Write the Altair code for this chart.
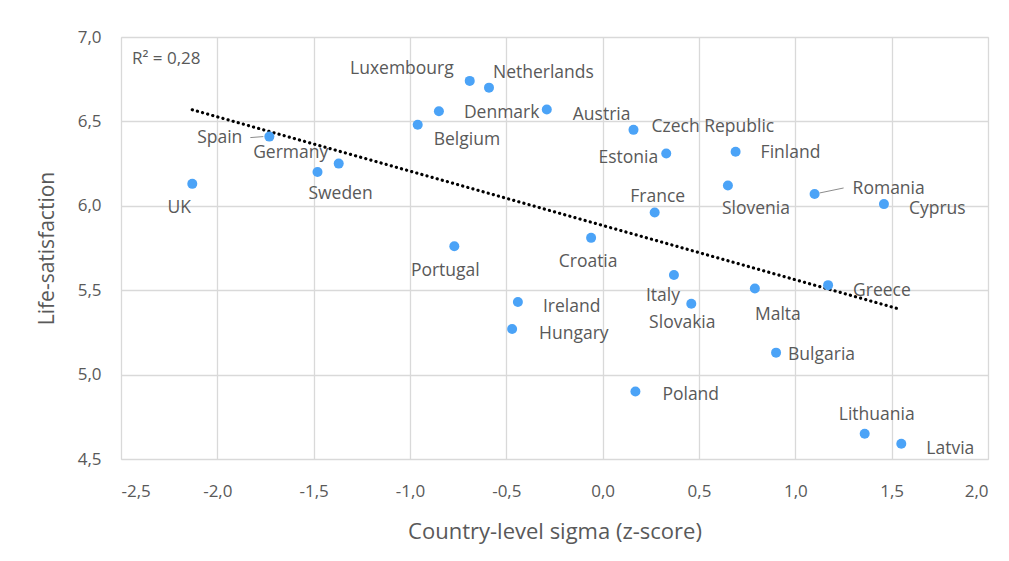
import altair as alt
import pandas as pd

countries = ["UK", "Spain", "Sweden", "Germany", "Belgium", "Denmark", "Luxembourg",
             "Netherlands", "Austria", "Czech Republic", "Estonia", "Finland", "Slovenia",
             "France", "Romania", "Cyprus", "Croatia", "Portugal", "Ireland", "Hungary",
             "Italy", "Slovakia", "Malta", "Greece", "Bulgaria", "Poland", "Lithuania", "Latvia"]
sigma = [-2.13, -1.73, -1.48, -1.37, -0.96, -0.85, -0.69, -0.59, -0.29, 0.16, 0.33, 0.69,
         0.65, 0.27, 1.10, 1.46, -0.06, -0.77, -0.44, -0.47, 0.37, 0.46, 0.79, 1.17, 0.90,
         0.17, 1.36, 1.55]
life = [6.13, 6.41, 6.20, 6.25, 6.48, 6.56, 6.74, 6.70, 6.57, 6.45, 6.31, 6.32, 6.12, 5.96,
        6.07, 6.01, 5.81, 5.76, 5.43, 5.27, 5.59, 5.42, 5.51, 5.53, 5.13, 4.90, 4.65, 4.59]

# label placement (pixel offsets from point, alignment)
label_pos = {
    "UK": (-13, 24, "center"), "Spain": (-27, 1, "right"), "Sweden": (23, 22, "center"),
    "Germany": (-48, -11, "center"), "Belgium": (16, 15, "left"), "Denmark": (25, 2, "left"),
    "Luxembourg": (-16, -12, "right"), "Netherlands": (4, -15, "left"),
    "Austria": (26, 5, "left"), "Czech Republic": (18, -3, "left"),
    "Estonia": (-8, 5, "right"), "Finland": (25, 1, "left"), "Slovenia": (28, 23, "center"),
    "France": (3, -16, "center"), "Romania": (38, -5, "left"), "Cyprus": (25, 5, "left"),
    "Croatia": (-3, 24, "center"), "Portugal": (-9, 25, "center"), "Ireland": (25, 5, "left"),
    "Hungary": (27, 5, "left"), "Italy": (-11, 21, "center"), "Slovakia": (-9, 19, "center"),
    "Malta": (23, 26, "center"), "Greece": (25, 6, "left"), "Bulgaria": (12, 2, "left"),
    "Poland": (27, 4, "left"), "Lithuania": (12, -19, "center"), "Latvia": (25, 5, "left"),
}

df = pd.DataFrame({"country": countries, "sigma": sigma, "life": life})

FONT = "Open Sans"
TXT = "#595959"

xscale = alt.Scale(domain=[-2.5, 2.0], nice=False, zero=False)
yscale = alt.Scale(domain=[4.5, 7.0], nice=False, zero=False)
fmt = "replace(replace(format(datum.value, '.1f'), '.', ','), '\u2212', '-')"

base = alt.Chart(df).encode(
    x=alt.X("sigma:Q", scale=xscale,
            axis=alt.Axis(title="Country-level sigma (z-score)", values=[-2.5, -2.0, -1.5, -1.0, -0.5, 0.0, 0.5, 1.0, 1.5, 2.0],
                          labelExpr=fmt, ticks=False, domain=False, grid=True,
                          gridColor="#d9d9d9", gridWidth=1.3, labelFont=FONT, labelFontSize=17,
                          labelColor=TXT, labelPadding=24, titleFont=FONT, titleFontSize=22,
                          titleColor=TXT, titleFontWeight="normal", titlePadding=22)),
    y=alt.Y("life:Q", scale=yscale,
            axis=alt.Axis(title="Life-satisfaction", values=[4.5, 5.0, 5.5, 6.0, 6.5, 7.0],
                          labelExpr=fmt, ticks=False, domain=False, grid=True,
                          gridColor="#d9d9d9", gridWidth=1.3, labelFont=FONT, labelFontSize=17,
                          labelColor=TXT, labelPadding=20, titleFont=FONT, titleFontSize=21,
                          titleColor=TXT, titleFontWeight="normal", titlePadding=20)),
)

trend = base.transform_regression("sigma", "life", method="linear").mark_line(
    color="black", strokeWidth=3.2, strokeDash=[0.1, 5.2], strokeCap="round")

points = base.mark_circle(size=100, color="#4BA3F7", opacity=1)

layers = [trend, points]
for c in countries:
    dx, dy, al = label_pos[c]
    layers.append(
        base.transform_filter(alt.datum.country == c).mark_text(
            dx=dx, dy=dy, align=al, baseline="middle", font=FONT, fontSize=17.5, color=TXT
        ).encode(text="country:N")
    )

spain_leader = base.transform_filter(alt.datum.country == "Spain").mark_rule(
    color="#8c8c8c", strokeWidth=1, xOffset=-19, x2Offset=-6, yOffset=1, y2Offset=0
).encode(x2="sigma:Q", y2="life:Q")
romania_leader = base.transform_filter(alt.datum.country == "Romania").mark_rule(
    color="#8c8c8c", strokeWidth=1, xOffset=5, x2Offset=29, yOffset=-1, y2Offset=-6
).encode(x2="sigma:Q", y2="life:Q")
layers += [spain_leader, romania_leader]

r2 = alt.Chart(pd.DataFrame({"t": ["R² = 0,28"]})).mark_text(
    align="left", baseline="middle", font=FONT, fontSize=17, color=TXT
).encode(x=alt.value(11), y=alt.value(22), text="t:N")
layers.append(r2)

chart = alt.layer(*layers).properties(
    width=867, height=422,
    autosize=alt.AutoSizeParams(type="none"),
    padding={"left": 113, "top": 29, "right": 13, "bottom": 94},
).configure_view(stroke=None).configure(background="white")

chart.save("out.html", embed_options={"renderer": "svg", "actions": False})
